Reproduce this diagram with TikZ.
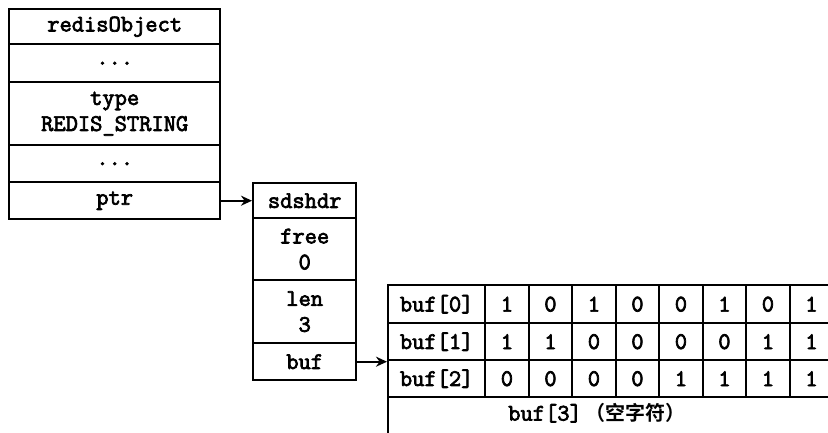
\documentclass[tikz,border=0pt]{standalone}
\usepackage{fontspec}
\newfontfamily\cour[FakeBold=3]{Latin Modern Mono}
\newfontfamily\cjk{Noto Sans CJK SC Bold}
\usetikzlibrary{arrows.meta}
\begin{document}
\begin{tikzpicture}[x=1pt,y=-1pt,
  cell/.style={draw, line width=2.4pt, anchor=north west, inner sep=0pt,
    font=\fontsize{23.8}{26}\selectfont\cour, align=center},
  txt/.style={inner sep=0pt, font=\fontsize{23.8}{26}\selectfont\cour},
  link/.style={line width=2pt, -{Stealth[length=11pt,width=10pt]}}]
\useasboundingbox (0,0) rectangle (828,432);
\clip (0,0) rectangle (828,432);
% redisObject
\node[cell,minimum width=211pt,minimum height=35pt] (ro) at (8,8) {redisObject};
\node[cell,minimum width=211pt,minimum height=38pt] (d1) at (8,43) {...};
\node[cell,minimum width=211pt,minimum height=63pt] (type) at (8,81) {type\\REDIS\_STRING};
\node[cell,minimum width=211pt,minimum height=37pt] (d2) at (8,144) {...};
\node[cell,minimum width=211pt,minimum height=37pt] (ptr) at (8,181) {ptr};
% sdshdr
\node[cell,minimum width=103pt,minimum height=35pt] (sh) at (252,182) {sdshdr};
\node[cell,minimum width=103pt,minimum height=62pt] (free) at (252,217) {free\\0};
\node[cell,minimum width=103pt,minimum height=63pt] (len) at (252,279) {len\\3};
\node[cell,minimum width=103pt,minimum height=37pt] (sbuf) at (252,342) {buf};
% buf table
\node[cell,minimum width=97pt,minimum height=38pt] (r0) at (387,284) {buf[0]};
\node[cell,minimum width=97pt,minimum height=37pt] (r1) at (387,322) {buf[1]};
\node[cell,minimum width=97pt,minimum height=37pt] (r2) at (387,359) {buf[2]};
\foreach \b [count=\c from 0] in {1,0,1,0,0,1,0,1}
  \node[cell,minimum width=43.5pt,minimum height=38pt] (a\c) at (484+43.5*\c,284) {\b};
\foreach \b [count=\c from 0] in {1,1,0,0,0,0,1,1}
  \node[cell,minimum width=43.5pt,minimum height=37pt] (b\c) at (484+43.5*\c,322) {\b};
\foreach \b [count=\c from 0] in {0,0,0,0,1,1,1,1}
  \node[cell,minimum width=43.5pt,minimum height=37pt] (e\c) at (484+43.5*\c,359) {\b};
\node[cell,minimum width=445pt,minimum height=60pt] (r3) at (387,396) {};
\node[txt] (r3t) at (597,413) {buf[3]\,{\cjk\fontsize{20}{24}\selectfont （空字符）}};
% connectors
\draw[link] (ptr.east) -- (sh.west);
\draw[link] (sbuf.east) -- (sbuf.east -| r0.west);
\end{tikzpicture}
\end{document}
